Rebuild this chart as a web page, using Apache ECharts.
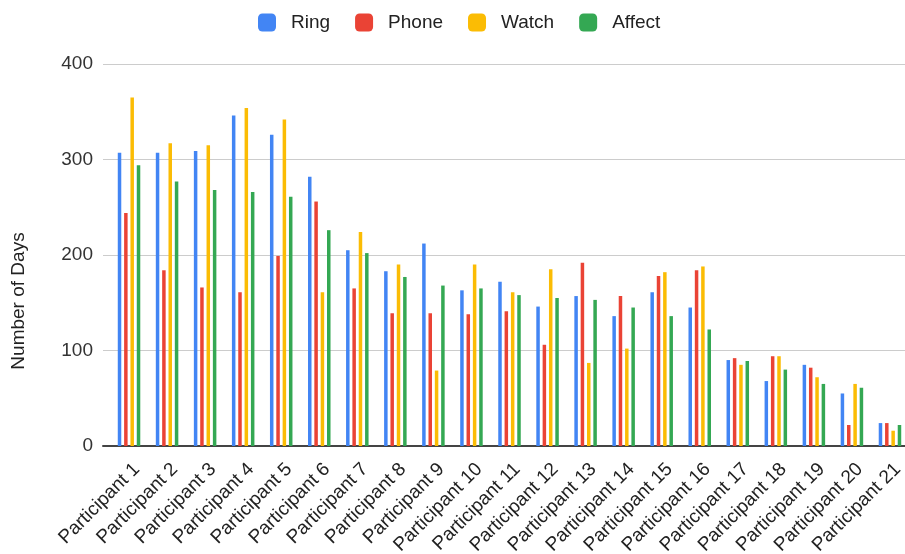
<!DOCTYPE html>
<html>
<head>
<meta charset="utf-8">
<title>Number of Days per Participant</title>
<script src="https://cdn.jsdelivr.net/npm/echarts@6/dist/echarts.min.js"></script>
<style>
  html, body { margin: 0; padding: 0; background: #fff; }
  #chart { width: 905px; height: 554px; }
</style>
</head>
<body>
<div id="chart"></div>
<script>
// categories
const participants = [
  'Participant 1', 'Participant 2', 'Participant 3', 'Participant 4', 'Participant 5',
  'Participant 6', 'Participant 7', 'Participant 8', 'Participant 9', 'Participant 10',
  'Participant 11', 'Participant 12', 'Participant 13', 'Participant 14', 'Participant 15',
  'Participant 16', 'Participant 17', 'Participant 18', 'Participant 19', 'Participant 20',
  'Participant 21'
]

// series values (days)
const ring = [307, 307, 309, 346, 326, 282, 205, 183, 212, 163, 172, 146, 157, 136, 161, 145, 90, 68, 85, 55, 24]
const phone = [244, 184, 166, 161, 199, 256, 165, 139, 139, 138, 141, 106, 192, 157, 178, 184, 92, 94, 82, 22, 24]
const watch = [365, 317, 315, 354, 342, 161, 224, 190, 79, 190, 161, 185, 87, 102, 182, 188, 85, 94, 72, 65, 16]
const affect = [294, 277, 268, 266, 261, 226, 202, 177, 168, 165, 158, 155, 153, 145, 136, 122, 89, 80, 65, 61, 22]

// y axis ticks
const yTicks = [0, 100, 200, 300, 400]

const seriesDefs = [
  { name: 'Ring', data: ring, color: '#4285F4' },
  { name: 'Phone', data: phone, color: '#EA4335' },
  { name: 'Watch', data: watch, color: '#FBBC04' },
  { name: 'Affect', data: affect, color: '#34A853' }
]

const font = '"Liberation Sans", Arial, sans-serif'
const chart = echarts.init(document.getElementById('chart'), null, { renderer: 'canvas' })

const option = {
  animation: false,
  textStyle: { fontFamily: font },
  legend: {
    data: seriesDefs.map(s => s.name),
    top: 8,
    left: 253,
    icon: 'roundRect',
    itemWidth: 18,
    itemHeight: 18,
    itemGap: 25,
    textStyle: { fontSize: 19, color: '#222', padding: [0, 0, 0, 10] }
  },
  // grid 0 holds gridlines / y labels / baseline, grid 1 holds the bars
  grid: [
    { left: 103, right: 0, top: 64, bottom: 108, outerBoundsMode: 'none', containLabel: false },
    { left: 110, right: -4, top: 64, bottom: 108, outerBoundsMode: 'none', containLabel: false }
  ],
  xAxis: [
    {
      gridIndex: 0,
      type: 'value',
      min: 0,
      max: 1,
      axisLine: { show: true, lineStyle: { color: '#444', width: 2 } },
      axisTick: { show: false },
      axisLabel: { show: false },
      splitLine: { show: false }
    },
    {
      gridIndex: 1,
      type: 'category',
      data: participants,
      axisLine: { show: false },
      axisTick: { show: false },
      axisLabel: {
        rotate: 45,
        interval: 0,
        margin: 28,
        padding: [0, -11, 0, 0],
        fontSize: 19,
        color: '#222'
      }
    }
  ],
  yAxis: [
    {
      gridIndex: 0,
      type: 'value',
      min: yTicks[0],
      max: yTicks[yTicks.length - 1],
      interval: 100,
      axisLine: { show: false },
      axisTick: { show: false },
      axisLabel: { fontSize: 19, color: '#333', margin: 10 },
      splitLine: { lineStyle: { color: '#ccc', width: 1 } }
    },
    {
      gridIndex: 1,
      type: 'value',
      min: yTicks[0],
      max: yTicks[yTicks.length - 1],
      show: false,
      splitLine: { show: false }
    }
  ],
  graphic: [
    {
      type: 'text',
      x: 19,
      y: 301,
      rotation: Math.PI / 2,
      style: {
        text: 'Number of Days',
        font: '19px ' + font,
        fill: '#222',
        align: 'center',
        verticalAlign: 'middle'
      }
    }
  ],
  series: seriesDefs.map(s => ({
    name: s.name,
    type: 'bar',
    xAxisIndex: 1,
    yAxisIndex: 1,
    data: s.data,
    barWidth: 3.5,
    barGap: '81%',
    itemStyle: { color: s.color }
  }))
}

chart.setOption(option)
</script>
</body>
</html>
